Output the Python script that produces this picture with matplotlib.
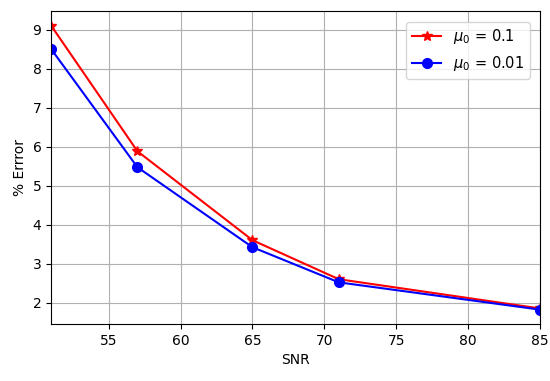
import numpy as np
import matplotlib.pyplot as plt

# SNR values
snr = np.array([51, 57, 65, 71, 85], dtype=float)

# % erro para cada mu0
erro01 = np.array([9.1, 5.88, 3.6, 2.6, 1.85])
erro001 = np.array([8.5, 5.47, 3.42, 2.52, 1.82])

fig, ax = plt.subplots(figsize=(5.5, 3.81), dpi=100)
plt.plot(snr, erro01, 'r-*', label=r'$\mu_0$ = 0.1', markersize=7)
plt.plot(snr, erro001, 'b-o', label=r'$\mu_0$ = 0.01', markersize=7)
plt.grid(True)
plt.xlim(51, 85)
plt.legend(loc='best', fontsize=10.5, borderaxespad=0.7)
plt.xlabel('SNR')
plt.ylabel('% Errror')
plt.subplots_adjust(left=0.093, right=0.982, top=0.97, bottom=0.15)
fig.savefig('out.png')
